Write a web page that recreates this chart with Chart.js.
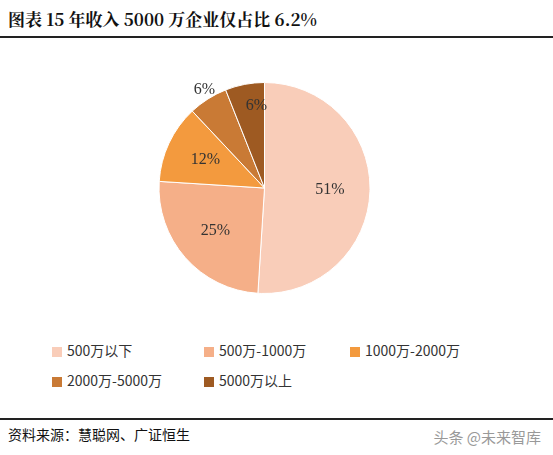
<!DOCTYPE html><html><head><meta charset="utf-8">
<script src="https://cdn.jsdelivr.net/npm/chart.js@4"></script>
<style>
body{margin:0;width:553px;height:455px;background:#fff;font-family:"Noto Sans CJK SC",sans-serif;position:relative;overflow:hidden}
#title{position:absolute;left:8px;top:6px;font-size:17px;font-weight:bold;font-family:"Noto Serif CJK SC","Noto Sans CJK SC",serif;color:#111}
#l1{position:absolute;left:0;top:36px;width:553px;height:2px;background:#222}
#l2{position:absolute;left:0;top:418px;width:553px;height:2px;background:#222}
#src{position:absolute;left:8px;top:424px;font-size:14px;color:#111}
#wm{position:absolute;right:12px;top:426px;font-size:15px;color:#999}
#wrap{position:absolute;left:0;top:40px;width:553px;height:300px}
#leg{position:absolute;left:52px;top:340px;width:490px;font-size:14px;color:#333}
.it{position:absolute;white-space:nowrap}
.sw{display:inline-block;width:10px;height:10px;margin-right:5px;vertical-align:middle}
</style></head><body>
<div id="title">图表 15 年收入 5000 万企业仅占比 6.2%</div>
<div id="l1"></div>
<div id="wrap"><canvas id="c"></canvas></div>
<div id="leg"></div>
<div id="l2"></div>
<div id="src">资料来源：慧聪网、广证恒生</div>
<div id="wm">头条 @未来智库</div>
<script>
const categories=["500万以下","500万-1000万","1000万-2000万","2000万-5000万","5000万以上"];
const values=[51,25,12,6,6];
const labels=["51%","25%","12%","6%","6%"];
const colors=["#F9CDB9","#F5AF88","#F39A3E","#C97A35","#9E5A22"];
const legPos=[[0,0],[152,0],[298,0],[0,30],[152,30]];
const leg=document.getElementById('leg');
categories.forEach((c,i)=>{const d=document.createElement('div');d.className='it';d.style.left=legPos[i][0]+'px';d.style.top=legPos[i][1]+'px';d.innerHTML='<span class="sw" style="background:'+colors[i]+'"></span>'+c;leg.appendChild(d);});
const lblPlugin={id:'lbl',afterDatasetsDraw(ch){const ctx=ch.ctx;const m=ch.getDatasetMeta(0);ctx.save();ctx.font='16px "Liberation Serif",serif';ctx.fillStyle='#333';ctx.textAlign='center';ctx.textBaseline='middle';
m.data.forEach((a,i)=>{const ang=(a.startAngle+a.endAngle)/2;let r=a.outerRadius*0.62;let x=a.x+Math.cos(ang)*r,y=a.y+Math.sin(ang)*r;if(i==3){x=a.x-60;y=a.y-98;}if(i==4){x=a.x-8;y=a.y-82;}ctx.fillText(labels[i],x,y);});ctx.restore();}};
new Chart(document.getElementById('c'),{type:'pie',data:{labels:categories,datasets:[{data:values,backgroundColor:colors,borderColor:'#fff',borderWidth:1}]},
options:{responsive:true,maintainAspectRatio:false,animation:false,layout:{padding:{top:42,bottom:46,left:0,right:24}},plugins:{legend:{display:false},tooltip:{enabled:false}},events:[]},plugins:[lblPlugin]});
</script></body></html>
